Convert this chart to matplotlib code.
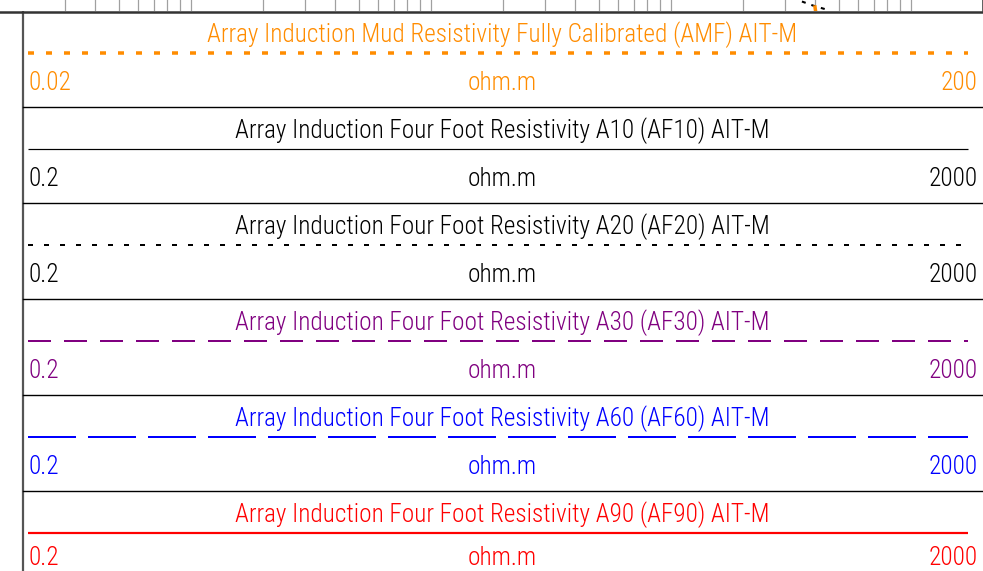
import matplotlib
matplotlib.use("Agg")
import matplotlib.pyplot as plt
import numpy as np

plt.rcParams['font.family'] = ['Liberation Sans Narrow', 'Arial Narrow', 'Roboto Condensed',
                               'Archivo Narrow', 'PT Sans Narrow', 'Liberation Sans', 'DejaVu Sans']
plt.rcParams['lines.scale_dashes'] = False

# curve header data
curve_names = [
    "Array Induction Mud Resistivity Fully Calibrated (AMF) AIT-M",
    "Array Induction Four Foot Resistivity A10 (AF10) AIT-M",
    "Array Induction Four Foot Resistivity A20 (AF20) AIT-M",
    "Array Induction Four Foot Resistivity A30 (AF30) AIT-M",
    "Array Induction Four Foot Resistivity A60 (AF60) AIT-M",
    "Array Induction Four Foot Resistivity A90 (AF90) AIT-M",
]
units = ["ohm.m"] * 6
scale_left = ["0.02", "0.2", "0.2", "0.2", "0.2", "0.2"]
scale_right = ["200", "2000", "2000", "2000", "2000", "2000"]

# bits of the curves visible at the bottom of the track above
af20_depth = [1.5, 5.5, 10.0]
af20_value = [352, 391, 452]
amf_depth = [7.0, 10.5]
amf_value = [399, 401]

colors = ["#FF8C00", "black", "black", "#800080", "#0000FF", "#FF0000"]
px = 0.72  # points per pixel at 100 dpi
widths = [3.5, 1.2, 2, 2, 2, 2.2]
styles = [(0, (6 * px, 12 * px)), "-", (0, (5 * px, 11 * px)),
          (0, (23 * px, 13 * px)), (0, (48 * px, 12 * px)), "-"]

W, H = 983, 571
fig = plt.figure(figsize=(W / 100, H / 100), dpi=100)

# track strip (log grid) at the very top
strip = fig.add_axes([23 / W, 1 - 11 / H, 960 / W, 11 / H])
strip.set_xscale("log")
strip.set_xlim(0.2, 2000)
strip.set_ylim(11, 0)
ticks = []
for dec in [0.1, 1, 10, 100, 1000]:
    for m in range(1, 10):
        v = dec * m
        if 0.2 < v < 2000:
            ticks.append(v)
for v in ticks:
    strip.axvline(v, color="#a0a0a0", lw=0.9)
strip.plot(af20_value, af20_depth, color="black", lw=1.5, ls=(0, (4 * px, 6 * px)))
strip.plot(amf_value, amf_depth, color="#FF8C00", lw=2.5)
strip.set_xticks([])
strip.set_yticks([])
strip.minorticks_off()
for s in ["top", "bottom", "left"]:
    strip.spines[s].set_visible(False)
strip.spines["right"].set_color("#444444")
strip.spines["right"].set_linewidth(1.2)

# header area in pixel coordinates
ax = fig.add_axes([0, 0, 1, 1 - 11 / H])
ax.set_xlim(0, W)
ax.set_ylim(H, 11)
ax.axis("off")
ax.axvline(23, color="#555555", lw=1.6)
ax.axhline(11.5, color="#333333", lw=1.8)

row_h = 96
x0, x1 = 28, 968
xc = 502
fs = 18.2
fw = "light"
for i, name in enumerate(curve_names):
    top = 11 + row_h * i
    ylab = top + 72 if i < len(curve_names) - 1 else H - 13
    if i > 0:
        ax.plot([23, W], [top, top], color="black", lw=1.0)
    ax.text(xc, top + 23.5, name, color=colors[i], fontsize=fs, fontweight=fw,
            ha="center", va="center")
    ax.plot([x0, x1], [top + 42, top + 42], color=colors[i], lw=widths[i] * px,
            ls=styles[i], solid_capstyle="butt")
    ax.text(x0, ylab, scale_left[i], color=colors[i], fontsize=fs, fontweight=fw,
            ha="left", va="center")
    ax.text(xc, ylab, units[i], color=colors[i], fontsize=fs, fontweight=fw,
            ha="center", va="center")
    ax.text(978, ylab, scale_right[i], color=colors[i], fontsize=fs, fontweight=fw,
            ha="right", va="center")

fig.savefig("out.png", dpi=100)
